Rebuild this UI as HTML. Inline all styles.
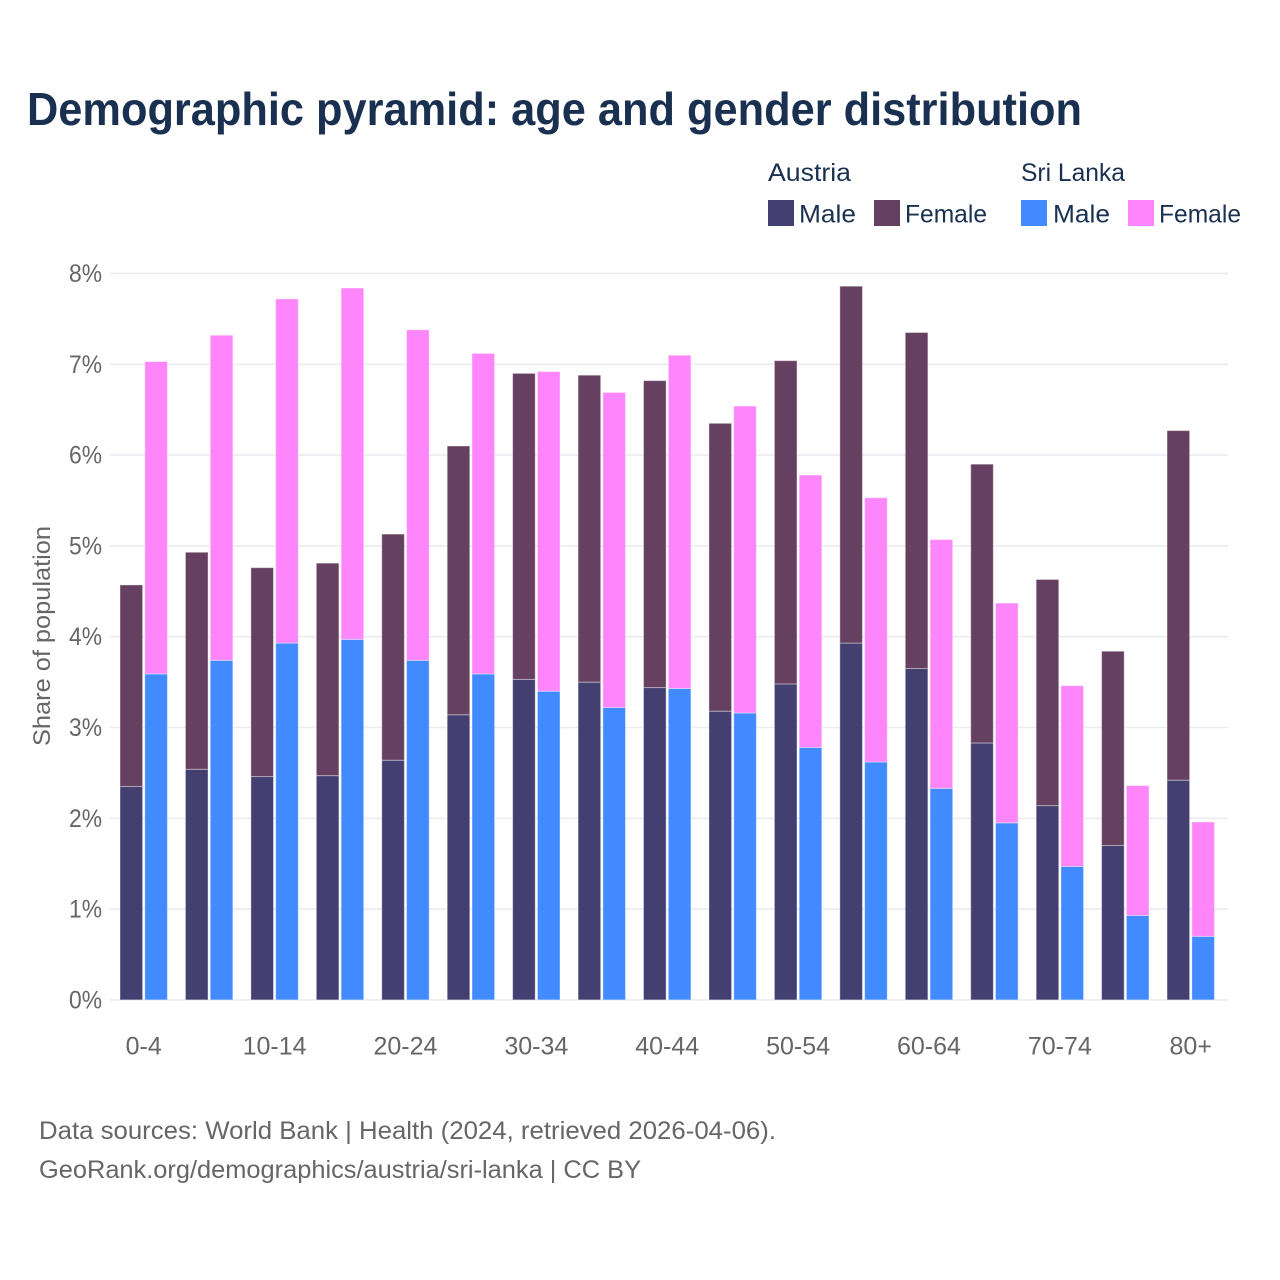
<!DOCTYPE html>
<html lang="en">
<head>
<meta charset="utf-8">
<title>Demographic pyramid: age and gender distribution</title>
<style>
html,body{margin:0;padding:0;background:#fff;}
svg{display:block;font-family:"Liberation Sans",sans-serif;}
</style>
</head>
<body>
<svg id="chart" xmlns="http://www.w3.org/2000/svg" width="1280" height="1280" viewBox="0 0 1280 1280">
  <rect width="1280" height="1280" fill="#ffffff"/>
  <text x="27" y="125" font-size="46" font-weight="700" fill="#1a3050" textLength="1055" lengthAdjust="spacingAndGlyphs">Demographic pyramid: age and gender distribution</text>

  <g font-size="25" fill="#1a3050">
    <text x="768" y="181" textLength="83" lengthAdjust="spacingAndGlyphs">Austria</text>
    <text x="1021" y="181" textLength="104" lengthAdjust="spacingAndGlyphs">Sri Lanka</text>
    <rect x="768" y="200" width="26" height="26" fill="#433f70"/>
    <text x="799" y="222.5" textLength="57" lengthAdjust="spacingAndGlyphs">Male</text>
    <rect x="874" y="200" width="26" height="26" fill="#664060"/>
    <text x="905" y="222.5" textLength="82" lengthAdjust="spacingAndGlyphs">Female</text>
    <rect x="1021" y="200" width="26" height="26" fill="#418aff"/>
    <text x="1053" y="222.5" textLength="57" lengthAdjust="spacingAndGlyphs">Male</text>
    <rect x="1128" y="200" width="26" height="26" fill="#ff85fa"/>
    <text x="1159" y="222.5" textLength="82" lengthAdjust="spacingAndGlyphs">Female</text>
  </g>

  <g id="grid"></g>
  <g id="bars"></g>
  <g id="y-ticks"></g>
  <g id="x-ticks"></g>

  <text transform="translate(50,636) rotate(-90)" text-anchor="middle" font-size="24" fill="#666666" textLength="220" lengthAdjust="spacingAndGlyphs">Share of population</text>

  <text x="39" y="1139" font-size="25" fill="#666666" textLength="737" lengthAdjust="spacingAndGlyphs">Data sources: World Bank | Health (2024, retrieved 2026-04-06).</text>
  <text x="39" y="1178" font-size="25" fill="#666666" textLength="602" lengthAdjust="spacingAndGlyphs">GeoRank.org/demographics/austria/sri-lanka | CC BY</text>
</svg>
<script>
const ageGroups = ["0-4","5-9","10-14","15-19","20-24","25-29","30-34","35-39","40-44","45-49","50-54","55-59","60-64","65-69","70-74","75-79","80+"];
const xTickLabels = ["0-4","10-14","20-24","30-34","40-44","50-54","60-64","70-74","80+"];
const yTickValues = [0,1,2,3,4,5,6,7,8];
const austriaMale = [2.35,2.54,2.46,2.47,2.64,3.14,3.53,3.50,3.44,3.18,3.48,3.93,3.65,2.83,2.14,1.70,2.42];
const austriaFemale = [2.22,2.39,2.30,2.34,2.49,2.96,3.37,3.38,3.38,3.17,3.56,3.93,3.70,3.07,2.49,2.14,3.85];
const sriLankaMale = [3.59,3.74,3.93,3.97,3.74,3.59,3.40,3.22,3.43,3.16,2.78,2.62,2.33,1.95,1.47,0.93,0.70];
const sriLankaFemale = [3.44,3.58,3.79,3.87,3.64,3.53,3.52,3.47,3.67,3.38,3.00,2.91,2.74,2.42,1.99,1.43,1.26];

const NS = "http://www.w3.org/2000/svg";
const plotLeft = 110, plotRight = 1228, yZero = 999.9, yPerUnit = 90.8;
const firstGroupX = 120, groupStep = 65.44, barWidth = 22.6, barGap = 24.8;

function yScale(v) { return yZero - v * yPerUnit; }
function xScale(i) { return firstGroupX + i * groupStep; }

const gridLayer = document.getElementById("grid");
const barLayer = document.getElementById("bars");
const yLayer = document.getElementById("y-ticks");
const xLayer = document.getElementById("x-ticks");

yTickValues.forEach(function (v) {
  const line = document.createElementNS(NS, "line");
  
  
  line.setAttribute("x1", plotLeft);
  line.setAttribute("x2", plotRight);
  line.setAttribute("y1", yScale(v));
  line.setAttribute("y2", yScale(v));
  line.setAttribute("stroke", "#ececf0");
  line.setAttribute("stroke-width", "1.6");
  gridLayer.appendChild(line);

  const label = document.createElementNS(NS, "text");
  
  
  label.setAttribute("x", 102);
  label.setAttribute("y", yScale(v) + 8.5);
  label.setAttribute("text-anchor", "end");
  label.setAttribute("font-size", "25");
  label.setAttribute("fill", "#666666");
  label.setAttribute("textLength", "33");
  label.setAttribute("lengthAdjust", "spacingAndGlyphs");
  label.textContent = v + "%";
  yLayer.appendChild(label);
});

function drawBar(name, x, bottomValue, value, color) {
  const bar = document.createElementNS(NS, "rect");
  
  
  bar.setAttribute("x", x);
  bar.setAttribute("y", yScale(bottomValue + value));
  bar.setAttribute("width", barWidth);
  bar.setAttribute("height", value * yPerUnit);
  bar.setAttribute("fill", color);
  bar.setAttribute("stroke", "#ffffff");
  bar.setAttribute("stroke-opacity", "0.4");
  bar.setAttribute("stroke-width", "1");
  barLayer.appendChild(bar);
}

ageGroups.forEach(function (age, i) {
  const x = xScale(i);
  drawBar("bar-austria-male-" + age, x, 0, austriaMale[i], "#433f70");
  drawBar("bar-austria-female-" + age, x, austriaMale[i], austriaFemale[i], "#664060");
  drawBar("bar-sri-lanka-male-" + age, x + barGap, 0, sriLankaMale[i], "#418aff");
  drawBar("bar-sri-lanka-female-" + age, x + barGap, sriLankaMale[i], sriLankaFemale[i], "#ff85fa");
});

xTickLabels.forEach(function (tick) {
  const i = ageGroups.indexOf(tick);
  const label = document.createElementNS(NS, "text");
  
  
  label.setAttribute("x", xScale(i) + (barGap + barWidth) / 2);
  label.setAttribute("y", 1054.5);
  label.setAttribute("text-anchor", "middle");
  label.setAttribute("font-size", "25");
  label.setAttribute("fill", "#666666");
  label.textContent = tick;
  xLayer.appendChild(label);
});
</script>
</body>
</html>
